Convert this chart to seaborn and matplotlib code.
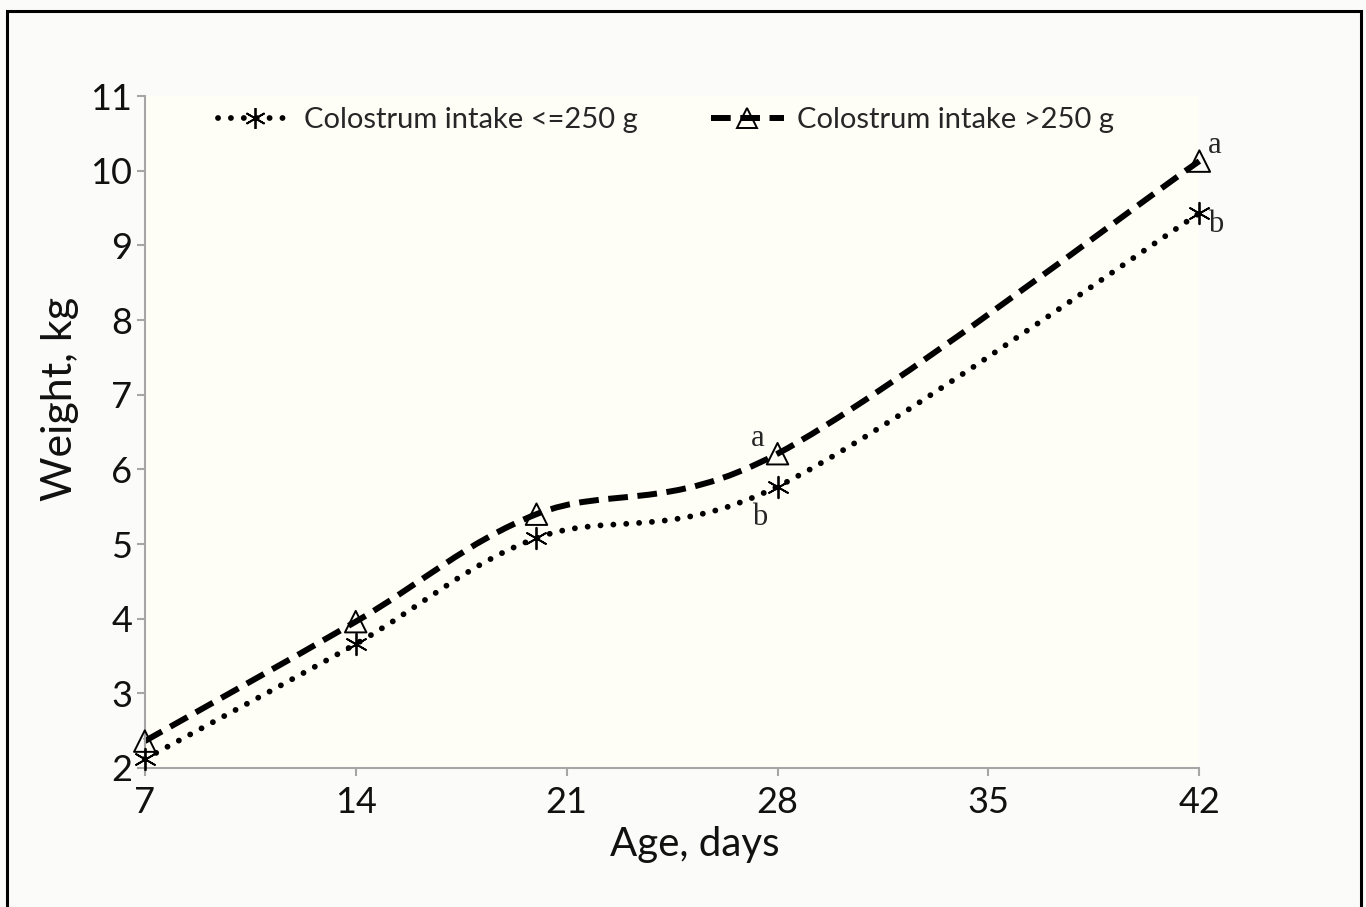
import numpy as np
import matplotlib
matplotlib.use('Agg')
import matplotlib.pyplot as plt
import seaborn as sns
from matplotlib.path import Path
from matplotlib.patches import PathPatch, Rectangle
from matplotlib.lines import Line2D

# data
days = [7, 14, 20, 28, 42]
weight_low = [2.12, 3.66, 5.08, 5.77, 9.43]
weight_high = [2.36, 3.96, 5.40, 6.21, 10.13]
letters_low = ['', '', '', 'b', 'b']
letters_high = ['', '', '', 'a', 'a']
label_low = 'Colostrum intake <=250 g'
label_high = 'Colostrum intake >250 g'
x_ticks = [7, 14, 21, 28, 35, 42]
y_ticks = list(range(2, 12))

sns.set_theme(style='ticks')
plt.rcParams['font.family'] = ['Lato', 'DejaVu Sans']

AXIS_GRAY = '#a6a6a6'
TEXT = '#111111'
STAR = (6, 2, 0)
DOTTED = (0, (0.01, 2.2))
DASHED = (0, (3.3, 1.6))


def smooth_path(x, y):
    # excel style smoothed line: cubic bezier through the points
    pts = np.column_stack([x, y]).astype(float)
    n = len(pts)
    verts = [pts[0]]
    codes = [Path.MOVETO]
    for i in range(n - 1):
        p0 = pts[max(i - 1, 0)]
        p1 = pts[i]
        p2 = pts[i + 1]
        p3 = pts[min(i + 2, n - 1)]
        verts += [p1 + (p2 - p0) / 6, p2 - (p3 - p1) / 6, p2]
        codes += [Path.CURVE4] * 3
    return Path(verts, codes)


fig, ax = plt.subplots(figsize=(13.66, 9.07), dpi=100)
fig.patch.set_facecolor('#fbfbfa')
ax.set_facecolor('#fefef7')
fig.subplots_adjust(left=0.106, right=0.878, bottom=0.1533, top=0.894)

# smoothed lines
ax.add_patch(PathPatch(smooth_path(days, weight_low), fill=False, ec='black',
                       lw=4.2, ls=DOTTED, capstyle='round', clip_on=False, zorder=2))
ax.add_patch(PathPatch(smooth_path(days, weight_high), fill=False, ec='black',
                       lw=4.3, ls=DASHED, capstyle='butt', clip_on=False, zorder=2))

# markers
sns.scatterplot(x=days, y=weight_low, marker=STAR, s=240, color='black',
                linewidth=1.3, ax=ax, clip_on=False, zorder=3)
sns.scatterplot(x=days, y=weight_high, marker='^', s=240, color='black',
                facecolor='none', edgecolor='black', linewidth=1.4, ax=ax,
                clip_on=False, zorder=3)

# significance letters
for d, w, t in zip(days, weight_high, letters_high):
    if t:
        off = (11, 11) if d == days[-1] else (-14, 11)
        ax.annotate(t, (d, w), xytext=off, textcoords='offset points',
                    ha='center', va='center', fontsize=22, family='Liberation Serif')
for d, w, t in zip(days, weight_low, letters_low):
    if t:
        off = (12, -8) if d == days[-1] else (-13, -22)
        ax.annotate(t, (d, w), xytext=off, textcoords='offset points',
                    ha='center', va='center', fontsize=22, family='Liberation Serif')

ax.set_xlim(7, 42)
ax.set_ylim(2, 11)
ax.set_xticks(x_ticks)
ax.set_yticks(y_ticks)
ax.tick_params(axis='both', colors=AXIS_GRAY, labelcolor=TEXT, width=1.5,
               length=6, labelsize=26)
ax.tick_params(axis='x', pad=7)
ax.tick_params(axis='y', pad=3)
for side in ['top', 'right']:
    ax.spines[side].set_visible(False)
for side in ['left', 'bottom']:
    ax.spines[side].set_color(AXIS_GRAY)
    ax.spines[side].set_linewidth(1.5)

ax.set_xlabel('Age, days', fontsize=29, color=TEXT)
ax.set_ylabel('Weight, kg', fontsize=31, color=TEXT)
ax.xaxis.set_label_coords(0.522, -0.087)
ax.yaxis.set_label_coords(-0.062, 0.55)

handles = [
    Line2D([], [], color='black', lw=4.2, ls=DOTTED, dash_capstyle='round',
           marker=STAR, ms=15, mew=1.3),
    Line2D([], [], color='black', lw=4.3, ls=DASHED, marker='^', ms=15,
           mfc='none', mew=1.4),
]
fig.legend(handles, [label_low, label_high], loc='center', ncol=2,
           bbox_to_anchor=(0.4876, 0.8677), frameon=False, fontsize=21,
           handlelength=2.5, handletextpad=0.45, columnspacing=2.5,
           numpoints=1)

# black frame round the picture
fig.add_artist(Rectangle((7 / 1366, -0.02), (1361 - 7) / 1366, 1 - 11 / 907 + 0.02,
                         transform=fig.transFigure, fill=False, ec='black', lw=2.2))

fig.savefig('out.png', dpi=100, facecolor=fig.get_facecolor())
